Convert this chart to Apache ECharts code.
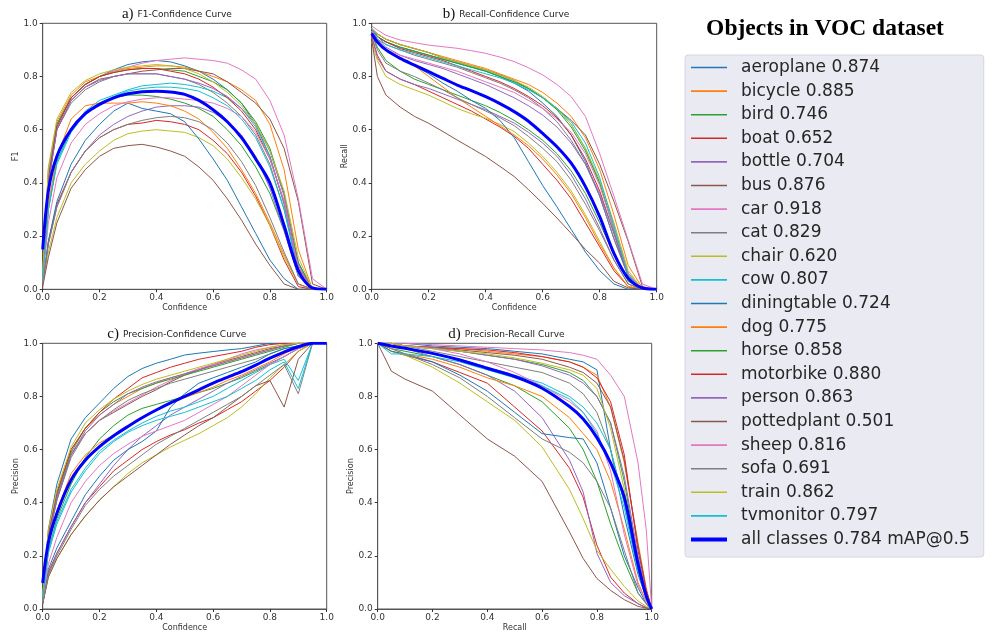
<!DOCTYPE html>
<html><head><meta charset="utf-8">
<script src="https://cdn.jsdelivr.net/npm/echarts@6/dist/echarts.min.js"></script>
<style>html,body{margin:0;padding:0;background:#fff}#c{width:1008px;height:633px}</style>
</head><body><div id="c"></div>
<script>
// ---------- DATA ----------
const classes = ['aeroplane','bicycle','bird','boat','bottle','bus','car','cat','chair','cow','diningtable','dog','horse','motorbike','person','pottedplant','sheep','sofa','train','tvmonitor'];
const classAP = [0.874,0.885,0.746,0.652,0.704,0.876,0.918,0.829,0.620,0.807,0.724,0.775,0.858,0.880,0.863,0.501,0.816,0.691,0.862,0.797];
const allClassesLabel = 'all classes 0.784 mAP@0.5';
const tickValues = [0, 0.2, 0.4, 0.6, 0.8, 1.0];

// confidence sample points (panels a, b, c)
const confGrid = [0, 0.02, 0.05, 0.1, 0.15, 0.2, 0.25, 0.3, 0.35, 0.4, 0.45, 0.5, 0.55, 0.6, 0.65, 0.7, 0.75, 0.8, 0.85, 0.9, 0.95, 1.0];
// recall sample points (panel d)
const recallGrid = [0, 0.05, 0.1, 0.2, 0.3, 0.4, 0.5, 0.6, 0.7, 0.75, 0.8, 0.85, 0.9, 0.95, 0.98, 1.0];

// a) F1 vs confidence, one row per class (same order as classes)
const f1Values = [
 [0.05,0.42,0.62,0.72,0.77,0.80,0.825,0.845,0.855,0.86,0.855,0.84,0.82,0.79,0.75,0.70,0.62,0.50,0.32,0.10,0.0,0],
 [0.06,0.45,0.63,0.73,0.78,0.80,0.82,0.83,0.835,0.84,0.84,0.835,0.82,0.80,0.78,0.75,0.71,0.62,0.45,0.15,0.0,0],
 [0.04,0.30,0.48,0.60,0.66,0.70,0.72,0.73,0.73,0.725,0.715,0.70,0.68,0.65,0.60,0.54,0.46,0.36,0.22,0.05,0,0],
 [0.02,0.18,0.32,0.44,0.52,0.57,0.60,0.62,0.625,0.635,0.63,0.62,0.60,0.56,0.51,0.44,0.35,0.24,0.11,0.01,0,0],
 [0.02,0.17,0.31,0.44,0.52,0.58,0.62,0.65,0.67,0.685,0.69,0.69,0.685,0.665,0.63,0.58,0.50,0.38,0.22,0.05,0,0],
 [0.05,0.40,0.60,0.71,0.76,0.79,0.80,0.81,0.82,0.825,0.83,0.83,0.82,0.81,0.78,0.74,0.70,0.64,0.53,0.33,0.02,0],
 [0.05,0.45,0.62,0.72,0.77,0.80,0.82,0.835,0.85,0.86,0.865,0.87,0.865,0.86,0.85,0.825,0.79,0.71,0.58,0.34,0.04,0],
 [0.05,0.40,0.60,0.70,0.75,0.78,0.80,0.81,0.81,0.81,0.80,0.79,0.77,0.74,0.70,0.65,0.58,0.47,0.30,0.08,0,0],
 [0.02,0.14,0.27,0.40,0.47,0.52,0.56,0.585,0.595,0.60,0.595,0.59,0.57,0.54,0.49,0.42,0.34,0.24,0.12,0.02,0,0],
 [0.04,0.30,0.48,0.60,0.67,0.71,0.73,0.75,0.765,0.77,0.775,0.77,0.76,0.745,0.72,0.68,0.61,0.50,0.32,0.06,0,0],
 [0.02,0.18,0.33,0.47,0.56,0.62,0.67,0.70,0.68,0.67,0.66,0.63,0.565,0.49,0.41,0.31,0.21,0.11,0.04,0,0,0],
 [0.04,0.32,0.50,0.64,0.69,0.70,0.70,0.70,0.705,0.70,0.69,0.67,0.64,0.59,0.53,0.45,0.36,0.25,0.13,0.02,0,0],
 [0.05,0.42,0.62,0.72,0.77,0.80,0.815,0.825,0.83,0.83,0.825,0.82,0.80,0.78,0.75,0.70,0.63,0.53,0.36,0.10,0,0],
 [0.05,0.41,0.61,0.72,0.77,0.80,0.815,0.825,0.83,0.83,0.82,0.81,0.79,0.76,0.72,0.67,0.60,0.49,0.33,0.08,0,0],
 [0.05,0.40,0.60,0.71,0.76,0.785,0.80,0.81,0.81,0.81,0.80,0.79,0.775,0.755,0.725,0.68,0.62,0.52,0.35,0.09,0,0],
 [0.01,0.12,0.25,0.38,0.45,0.50,0.53,0.54,0.545,0.535,0.52,0.50,0.46,0.41,0.34,0.26,0.17,0.09,0.02,0,0,0],
 [0.03,0.25,0.42,0.55,0.62,0.66,0.69,0.705,0.715,0.72,0.72,0.715,0.71,0.70,0.68,0.65,0.59,0.49,0.33,0.08,0,0],
 [0.02,0.17,0.31,0.44,0.52,0.57,0.60,0.62,0.635,0.645,0.65,0.645,0.63,0.60,0.55,0.48,0.39,0.27,0.14,0.02,0,0],
 [0.06,0.46,0.64,0.74,0.785,0.81,0.825,0.835,0.84,0.845,0.84,0.83,0.81,0.78,0.74,0.69,0.62,0.52,0.37,0.12,0,0],
 [0.04,0.30,0.47,0.59,0.66,0.70,0.725,0.745,0.755,0.76,0.76,0.755,0.745,0.72,0.69,0.64,0.57,0.46,0.30,0.06,0,0]
];
const meanF1 = [0.15,0.37,0.50,0.60,0.66,0.695,0.72,0.735,0.743,0.745,0.742,0.733,0.71,0.675,0.63,0.57,0.49,0.40,0.24,0.07,0.005,0];

// b) Recall vs confidence
const recallValues = [
 [0.98,0.95,0.93,0.91,0.895,0.88,0.865,0.85,0.835,0.82,0.80,0.775,0.745,0.70,0.65,0.58,0.48,0.35,0.19,0.05,0,0],
 [0.98,0.96,0.94,0.92,0.905,0.89,0.875,0.86,0.845,0.83,0.81,0.79,0.77,0.74,0.70,0.65,0.57,0.45,0.28,0.09,0.005,0],
 [0.96,0.91,0.86,0.82,0.79,0.77,0.75,0.73,0.71,0.69,0.665,0.635,0.60,0.56,0.51,0.445,0.36,0.25,0.13,0.03,0,0],
 [0.95,0.88,0.82,0.79,0.77,0.745,0.72,0.695,0.67,0.64,0.61,0.575,0.53,0.47,0.41,0.34,0.25,0.16,0.07,0.01,0,0],
 [0.95,0.87,0.82,0.79,0.77,0.755,0.735,0.715,0.695,0.675,0.65,0.625,0.59,0.55,0.50,0.43,0.34,0.23,0.11,0.02,0,0],
 [0.98,0.96,0.94,0.92,0.905,0.89,0.87,0.855,0.84,0.825,0.806,0.785,0.755,0.72,0.68,0.635,0.58,0.47,0.33,0.18,0.01,0],
 [0.99,0.975,0.955,0.937,0.927,0.918,0.912,0.906,0.897,0.887,0.873,0.856,0.833,0.806,0.77,0.724,0.65,0.51,0.35,0.185,0.02,0],
 [0.97,0.94,0.92,0.90,0.88,0.865,0.85,0.835,0.815,0.795,0.775,0.75,0.72,0.68,0.63,0.56,0.47,0.35,0.19,0.05,0,0],
 [0.93,0.86,0.80,0.77,0.75,0.73,0.705,0.68,0.66,0.643,0.62,0.593,0.55,0.50,0.44,0.37,0.28,0.18,0.08,0.01,0,0],
 [0.98,0.95,0.93,0.91,0.895,0.88,0.865,0.85,0.835,0.82,0.80,0.78,0.755,0.72,0.68,0.62,0.53,0.40,0.22,0.05,0,0],
 [0.97,0.93,0.90,0.87,0.84,0.81,0.775,0.745,0.71,0.68,0.635,0.57,0.48,0.39,0.31,0.225,0.14,0.07,0.02,0,0,0],
 [0.97,0.93,0.90,0.87,0.84,0.80,0.76,0.72,0.685,0.65,0.615,0.58,0.54,0.49,0.43,0.36,0.27,0.17,0.08,0.01,0,0],
 [0.98,0.95,0.93,0.91,0.895,0.88,0.865,0.85,0.835,0.82,0.80,0.78,0.755,0.72,0.675,0.61,0.52,0.40,0.23,0.06,0,0],
 [0.98,0.95,0.93,0.905,0.89,0.875,0.86,0.84,0.82,0.80,0.78,0.755,0.725,0.69,0.645,0.58,0.49,0.37,0.21,0.05,0,0],
 [0.98,0.94,0.91,0.88,0.86,0.845,0.83,0.81,0.79,0.77,0.745,0.72,0.69,0.655,0.61,0.55,0.47,0.36,0.21,0.05,0,0],
 [0.94,0.80,0.73,0.685,0.65,0.624,0.593,0.561,0.53,0.499,0.462,0.424,0.375,0.323,0.268,0.21,0.15,0.098,0.03,0.005,0,0],
 [0.97,0.93,0.90,0.88,0.865,0.85,0.835,0.82,0.80,0.78,0.76,0.74,0.71,0.68,0.64,0.59,0.51,0.39,0.23,0.06,0,0],
 [0.96,0.90,0.85,0.82,0.80,0.775,0.75,0.72,0.695,0.67,0.645,0.615,0.575,0.53,0.48,0.41,0.32,0.22,0.11,0.02,0,0],
 [0.98,0.96,0.94,0.92,0.905,0.89,0.87,0.855,0.84,0.825,0.805,0.785,0.76,0.725,0.68,0.62,0.53,0.41,0.25,0.07,0,0],
 [0.98,0.95,0.92,0.90,0.885,0.87,0.855,0.84,0.825,0.81,0.795,0.775,0.75,0.72,0.68,0.63,0.55,0.42,0.24,0.05,0,0]
];
const meanRecall = [0.962,0.93,0.90,0.868,0.843,0.818,0.793,0.768,0.747,0.724,0.698,0.668,0.632,0.586,0.536,0.474,0.386,0.273,0.135,0.041,0.005,0];

// c) Precision vs confidence
const precisionValues = [
 [0.05,0.30,0.47,0.64,0.72,0.775,0.83,0.875,0.905,0.925,0.94,0.956,0.963,0.969,0.975,0.98,0.99,1.0,1.0,1.0,1.0,1.0],
 [0.05,0.28,0.43,0.60,0.68,0.73,0.77,0.80,0.83,0.85,0.87,0.885,0.90,0.915,0.93,0.945,0.96,0.975,0.99,1.0,1.0,1.0],
 [0.04,0.22,0.34,0.47,0.57,0.64,0.69,0.73,0.755,0.77,0.785,0.80,0.815,0.83,0.85,0.87,0.895,0.92,0.95,0.98,1.0,1.0],
 [0.02,0.14,0.21,0.31,0.40,0.46,0.52,0.56,0.60,0.63,0.655,0.675,0.70,0.72,0.75,0.78,0.82,0.86,0.91,0.97,1.0,1.0],
 [0.02,0.13,0.21,0.31,0.40,0.47,0.54,0.60,0.65,0.69,0.73,0.76,0.79,0.82,0.85,0.875,0.90,0.925,0.95,0.98,1.0,1.0],
 [0.04,0.26,0.41,0.58,0.66,0.71,0.74,0.77,0.80,0.825,0.855,0.88,0.90,0.92,0.935,0.95,0.965,0.98,0.99,1.0,1.0,1.0],
 [0.05,0.28,0.42,0.585,0.66,0.71,0.745,0.775,0.805,0.835,0.86,0.885,0.905,0.92,0.94,0.96,0.975,0.985,0.995,1.0,1.0,1.0],
 [0.05,0.27,0.41,0.57,0.66,0.71,0.75,0.785,0.81,0.83,0.85,0.865,0.88,0.895,0.91,0.925,0.94,0.96,0.98,0.99,1.0,1.0],
 [0.02,0.12,0.19,0.28,0.35,0.41,0.46,0.51,0.55,0.58,0.61,0.635,0.66,0.69,0.72,0.76,0.81,0.87,0.92,0.97,1.0,1.0],
 [0.04,0.22,0.33,0.45,0.53,0.595,0.635,0.67,0.70,0.725,0.745,0.76,0.78,0.80,0.83,0.86,0.89,0.92,0.94,0.86,1.0,1.0],
 [0.02,0.15,0.23,0.33,0.43,0.50,0.56,0.60,0.63,0.67,0.76,0.81,0.85,0.87,0.89,0.91,0.93,0.96,0.98,0.99,1.0,1.0],
 [0.04,0.24,0.37,0.51,0.58,0.625,0.655,0.685,0.72,0.75,0.775,0.795,0.815,0.835,0.86,0.88,0.905,0.93,0.96,0.99,1.0,1.0],
 [0.05,0.28,0.43,0.59,0.68,0.74,0.78,0.81,0.83,0.85,0.865,0.88,0.895,0.91,0.925,0.94,0.955,0.97,0.985,1.0,1.0,1.0],
 [0.04,0.28,0.44,0.60,0.68,0.74,0.79,0.83,0.87,0.89,0.91,0.925,0.94,0.95,0.96,0.97,0.985,0.995,1.0,1.0,1.0,1.0],
 [0.05,0.27,0.42,0.58,0.67,0.73,0.77,0.81,0.835,0.855,0.87,0.885,0.90,0.915,0.93,0.945,0.96,0.975,0.99,1.0,1.0,1.0],
 [0.02,0.12,0.19,0.28,0.35,0.41,0.46,0.50,0.54,0.58,0.62,0.655,0.69,0.72,0.76,0.80,0.84,0.86,0.76,0.94,1.0,1.0],
 [0.03,0.17,0.27,0.40,0.48,0.54,0.585,0.62,0.65,0.67,0.69,0.71,0.74,0.77,0.80,0.84,0.88,0.92,0.95,0.98,1.0,1.0],
 [0.02,0.13,0.20,0.30,0.39,0.45,0.50,0.54,0.58,0.62,0.65,0.68,0.71,0.74,0.77,0.80,0.84,0.88,0.92,0.81,1.0,1.0],
 [0.05,0.30,0.45,0.61,0.70,0.75,0.79,0.82,0.845,0.865,0.88,0.895,0.91,0.925,0.94,0.955,0.97,0.985,0.995,1.0,1.0,1.0],
 [0.04,0.21,0.32,0.44,0.52,0.585,0.63,0.665,0.69,0.71,0.725,0.74,0.76,0.78,0.80,0.83,0.86,0.90,0.93,0.83,1.0,1.0]
];
const meanPrecision = [0.098,0.25,0.36,0.486,0.56,0.611,0.652,0.687,0.72,0.749,0.776,0.80,0.825,0.85,0.872,0.893,0.918,0.944,0.967,0.987,1.0,1.0];

// d) Precision vs recall
const prPrecisionValues = [
 [1.0,1.0,1.0,0.99,0.985,0.98,0.97,0.96,0.94,0.93,0.90,0.60,0.35,0.13,0.04,0],
 [1.0,1.0,0.99,0.985,0.98,0.97,0.96,0.95,0.93,0.91,0.88,0.76,0.55,0.25,0.08,0],
 [1.0,0.98,0.97,0.95,0.92,0.88,0.84,0.78,0.68,0.60,0.48,0.32,0.18,0.06,0.02,0],
 [1.0,0.97,0.955,0.93,0.89,0.85,0.76,0.67,0.53,0.42,0.24,0.12,0.06,0.02,0.005,0],
 [1.0,0.99,0.98,0.95,0.92,0.88,0.82,0.72,0.56,0.44,0.21,0.10,0.05,0.02,0.005,0],
 [1.0,1.0,0.99,0.985,0.975,0.965,0.955,0.94,0.91,0.89,0.85,0.76,0.56,0.24,0.07,0],
 [1.0,1.0,1.0,0.995,0.99,0.985,0.98,0.975,0.965,0.955,0.94,0.88,0.80,0.55,0.30,0],
 [1.0,1.0,0.99,0.97,0.95,0.93,0.91,0.89,0.85,0.81,0.74,0.60,0.40,0.15,0.04,0],
 [1.0,0.97,0.955,0.91,0.85,0.78,0.71,0.61,0.45,0.34,0.22,0.15,0.085,0.03,0.01,0],
 [1.0,0.99,0.98,0.96,0.94,0.91,0.88,0.85,0.80,0.76,0.70,0.60,0.40,0.15,0.04,0],
 [1.0,0.97,0.96,0.93,0.88,0.82,0.74,0.66,0.645,0.64,0.55,0.38,0.20,0.08,0.02,0],
 [1.0,0.98,0.96,0.94,0.91,0.87,0.84,0.80,0.72,0.66,0.60,0.48,0.30,0.10,0.03,0],
 [1.0,0.99,0.99,0.98,0.97,0.955,0.94,0.92,0.89,0.86,0.80,0.70,0.48,0.18,0.05,0],
 [1.0,1.0,0.99,0.985,0.98,0.975,0.965,0.95,0.93,0.91,0.87,0.78,0.58,0.22,0.07,0],
 [1.0,1.0,0.99,0.985,0.97,0.955,0.94,0.915,0.88,0.85,0.80,0.70,0.50,0.20,0.06,0],
 [1.0,0.895,0.865,0.82,0.73,0.64,0.575,0.48,0.29,0.19,0.115,0.07,0.035,0.01,0.003,0],
 [1.0,1.0,0.99,0.98,0.96,0.93,0.89,0.84,0.78,0.74,0.67,0.52,0.28,0.09,0.03,0],
 [1.0,0.98,0.96,0.92,0.87,0.80,0.72,0.64,0.59,0.55,0.48,0.38,0.22,0.06,0.02,0],
 [1.0,1.0,0.99,0.98,0.97,0.96,0.945,0.925,0.90,0.88,0.83,0.68,0.45,0.17,0.05,0],
 [1.0,0.96,0.96,0.95,0.93,0.90,0.87,0.84,0.79,0.74,0.66,0.55,0.38,0.14,0.04,0]
];
const meanPrPrecision = [1.0,0.99,0.981,0.962,0.937,0.906,0.875,0.831,0.762,0.715,0.645,0.55,0.42,0.17,0.05,0];

// ---------- STYLE / LAYOUT ----------
const palette = ['#1f77b4','#ff7f0e','#2ca02c','#d62728','#9467bd','#8c564b','#e377c2','#7f7f7f','#bcbd22','#17becf'];
const meanColor = '#0000ff';
const sans = 'DejaVu Sans';
const serif = 'Liberation Serif';

const panels = [
  {grid:{left:42.7, top:23.3, width:284, height:266}, xName:'Confidence', yName:'F1', tag:'a)', title:'F1-Confidence Curve', xs:confGrid, ys:f1Values, mean:meanF1},
  {grid:{left:371.7, top:23.3, width:285, height:266}, xName:'Confidence', yName:'Recall', tag:'b)', title:'Recall-Confidence Curve', xs:confGrid, ys:recallValues, mean:meanRecall},
  {grid:{left:42.7, top:343.3, width:284, height:266}, xName:'Confidence', yName:'Precision', tag:'c)', title:'Precision-Confidence Curve', xs:confGrid, ys:precisionValues, mean:meanPrecision},
  {grid:{left:377.7, top:343.3, width:274, height:266}, xName:'Recall', yName:'Precision', tag:'d)', title:'Precision-Recall Curve', xs:recallGrid, ys:prPrecisionValues, mean:meanPrPrecision}
];

const legendNames = classes.map((c, i) => c + ' ' + classAP[i].toFixed(3)).concat([allClassesLabel]);
const fmt = v => v.toFixed(1);

const measureCtx = document.createElement('canvas').getContext('2d');
function textWidth(t, font) { measureCtx.font = font; return measureCtx.measureText(t).width; }

const grids = [], xAxes = [], yAxes = [], series = [], graphics = [];
panels.forEach((p, k) => {
  grids.push(Object.assign({show:true, borderColor:'#555', borderWidth:1, backgroundColor:'#fff', containLabel:false}, p.grid));
  const axisCommon = {
    type:'value', min:0, max:1, interval:0.2, gridIndex:k,
    axisLine:{show:true, lineStyle:{color:'#555', width:1}},
    axisTick:{show:true, length:3, lineStyle:{color:'#333'}},
    splitLine:{show:false},
    nameLocation:'middle',
    nameTextStyle:{fontFamily:sans, fontSize:8, color:'#333'}
  };
  xAxes.push(Object.assign({}, axisCommon, {name:p.xName, nameGap:15,
    axisLabel:{fontFamily:sans, fontSize:9, color:'#333', margin:4, formatter:fmt}}));
  yAxes.push(Object.assign({}, axisCommon, {name:p.yName, nameGap:18,
    axisLabel:{fontFamily:sans, fontSize:9, color:'#333', margin:5, formatter:fmt}}));
  const cx = p.grid.left + p.grid.width / 2;
  const cy = p.grid.top - 8.5;
  const titleFont = '9px "DejaVu Sans"';
  const tw = textWidth(p.title, titleFont);
  graphics.push({type:'text', x:cx, y:cy, silent:true, z:10,
    style:{text:p.title, fontFamily:sans, fontSize:9, fill:'#222', align:'center', verticalAlign:'middle', textAlign:'center', textVerticalAlign:'middle'}});
  graphics.push({type:'text', x:cx - tw / 2 - 4, y:cy - 1, silent:true, z:10,
    style:{text:p.tag, fontFamily:serif, fontSize:15, fill:'#111', align:'right', verticalAlign:'middle', textAlign:'right', textVerticalAlign:'middle'}});
  p.ys.forEach((row, i) => {
    series.push({
      type:'line', name:legendNames[i], xAxisIndex:k, yAxisIndex:k,
      data:p.xs.map((x, j) => [x, row[j]]),
      symbol:'none', showSymbol:false, silent:true, z:2,
      lineStyle:{width:1, color:palette[i % 10]}, itemStyle:{color:palette[i % 10]}
    });
  });
  series.push({
    type:'line', name:allClassesLabel, xAxisIndex:k, yAxisIndex:k,
    data:p.xs.map((x, j) => [x, p.mean[j]]),
    symbol:'none', showSymbol:false, silent:true, z:3, smooth:0.3,
    lineStyle:{width:3, color:meanColor}, itemStyle:{color:meanColor}
  });
});

graphics.push({type:'text', x:825, y:29, silent:true, z:10,
  style:{text:'Objects in VOC dataset', fontFamily:serif, fontSize:23.5, fontWeight:'bold', fill:'#000', align:'center', verticalAlign:'middle', textAlign:'center', textVerticalAlign:'middle'}});

const thinIcon = 'path://M0,0L36,0L36,1.6L0,1.6Z';
const thickIcon = 'path://M0,0L36,0L36,4L0,4Z';
const legendData = legendNames.map((n, i) => ({name:n, icon: i < classes.length ? thinIcon : thickIcon}));

const chart = echarts.init(document.getElementById('c'), null, {renderer:'canvas'});
chart.setOption({
  animation:false,
  backgroundColor:'#fff',
  graphic:graphics,
  grid:grids, xAxis:xAxes, yAxis:yAxes,
  legend:{
    data:legendData, orient:'vertical', left:685, top:55,
    padding:[4, 14, 9, 6], itemWidth:36, itemHeight:12, itemGap:6.6,
    symbolKeepAspect:true,
    backgroundColor:'#eaeaf2', borderColor:'#d6d6de', borderWidth:1, borderRadius:3,
    selectedMode:false,
    textStyle:{fontFamily:sans, fontSize:17, lineHeight:17, color:'#262626', padding:[0,0,0,9]}
  },
  series:series
});
</script>
</body></html>
